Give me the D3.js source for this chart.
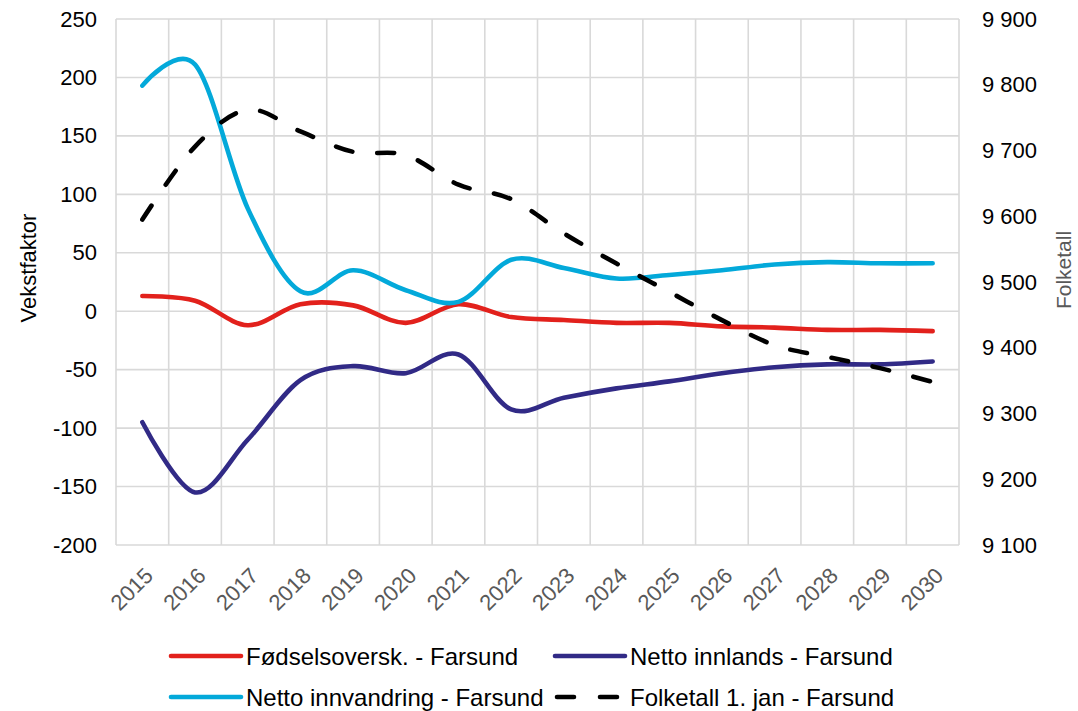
<!DOCTYPE html>
<html>
<head>
<meta charset="utf-8">
<script src="https://cdn.jsdelivr.net/npm/d3@7"></script>
<style>
  body { margin: 0; background: #fff; }
  svg { display: block; font-family: "Liberation Sans", Arial, sans-serif; }
</style>
</head>
<body>
<div id="chart"></div>
<script>
// Data
const years = [2015, 2016, 2017, 2018, 2019, 2020, 2021, 2022, 2023, 2024, 2025, 2026, 2027, 2028, 2029, 2030];
const fodselsoverskudd = [13, 9, -12, 6, 5, -10, 6, -5, -7.5, -10, -10, -13, -14, -16, -16, -17];
const nettoInnlands = [-95, -155, -110, -59, -47, -53, -37, -84, -74, -66, -60, -53, -48, -45.5, -45.5, -43];
const nettoInnvandring = [193, 211, 88, 17, 35, 18, 8, 44, 37, 28, 31, 35, 40, 42, 41, 41];
const folketall = [9595, 9706, 9762, 9729, 9698, 9693, 9648, 9626, 9574, 9528, 9485, 9442, 9404, 9386, 9369, 9348];
const leftTicks = [-200, -150, -100, -50, 0, 50, 100, 150, 200, 250];
const rightTicks = [9100, 9200, 9300, 9400, 9500, 9600, 9700, 9800, 9900];

const width = 1078,
  height = 711;
const plot = { left: 116, right: 959, top: 19, bottom: 545 };
const grid = "#d9d9d9";

const series = [
  { name: "Fødselsoversk. - Farsund", values: fodselsoverskudd, color: "#e2211c", axis: "left" },
  { name: "Netto innlands - Farsund", values: nettoInnlands, color: "#312a86", axis: "left" },
  { name: "Netto innvandring - Farsund", values: nettoInnvandring, color: "#03a9da", axis: "left" },
  { name: "Folketall 1. jan - Farsund", values: folketall, color: "#000", axis: "right", dashed: true },
];

const svg = d3
  .select("#chart")
  .append("svg")
  .attr("width", width)
  .attr("height", height);

// Scales
const x = d3.scaleBand().domain(years).range([plot.left, plot.right]);
const xc = (d) => x(d) + x.bandwidth() / 2;
const yLeft = d3.scaleLinear().domain([-200, 250]).range([plot.bottom, plot.top]);
const yRight = d3.scaleLinear().domain([9100, 9900]).range([plot.bottom, plot.top]);

// Norwegian number format (space as thousands separator, plain hyphen as minus)
const nb = d3.formatLocale({ decimal: ",", thousands: " ", grouping: [3], currency: ["", " kr"], minus: "-" });

// Gridlines
svg
  .append("g")
  .selectAll("line")
  .data(leftTicks)
  .enter()
  .append("line")
  .attr("x1", plot.left)
  .attr("x2", plot.right)
  .attr("y1", (d) => yLeft(d))
  .attr("y2", (d) => yLeft(d))
  .attr("stroke", grid)
  .attr("stroke-width", 1.6);

svg
  .append("g")
  .selectAll("line")
  .data(years.concat([null]))
  .enter()
  .append("line")
  .attr("x1", (d) => (d === null ? plot.right : x(d)))
  .attr("x2", (d) => (d === null ? plot.right : x(d)))
  .attr("y1", plot.top)
  .attr("y2", plot.bottom)
  .attr("stroke", grid)
  .attr("stroke-width", 1.6);

// Axes
const leftAxis = svg
  .append("g")
  .attr("transform", `translate(${plot.left},0)`)
  .call(d3.axisLeft(yLeft).tickValues(leftTicks).tickSize(0).tickPadding(19).tickFormat(nb.format("d")));
leftAxis.select(".domain").remove();
leftAxis.selectAll("text").style("font-size", "22px").attr("fill", "#000");

const rightAxis = svg
  .append("g")
  .attr("transform", `translate(${plot.right},0)`)
  .call(d3.axisRight(yRight).tickValues(rightTicks).tickSize(0).tickPadding(23).tickFormat(nb.format(",")));
rightAxis.select(".domain").remove();
rightAxis.selectAll("text").style("font-size", "22px").attr("fill", "#000");

const bottomAxis = svg
  .append("g")
  .attr("transform", `translate(0,${plot.bottom})`)
  .call(d3.axisBottom(x).tickSize(0).tickFormat(d3.format("d")));
bottomAxis.select(".domain").remove();
bottomAxis
  .selectAll("text")
  .style("font-size", "22px")
  .attr("fill", "#595959")
  .attr("text-anchor", "end")
  .attr("y", 0)
  .attr("dy", "0.71em")
  .attr("transform", "translate(1,21) rotate(-45)");

// Axis titles
svg
  .append("text")
  .attr("transform", `translate(36,${(plot.top + plot.bottom) / 2 - 14}) rotate(-90)`)
  .attr("text-anchor", "middle")
  .style("font-size", "22px")
  .attr("fill", "#000")
  .text("Vekstfaktor");

svg
  .append("text")
  .attr("transform", `translate(1071,${(plot.top + plot.bottom) / 2 - 12}) rotate(-90)`)
  .attr("text-anchor", "middle")
  .style("font-size", "21px")
  .attr("fill", "#595959")
  .text("Folketall");

// Lines
svg
  .append("g")
  .selectAll("path")
  .data(series)
  .enter()
  .append("path")
  .attr("fill", "none")
  .attr("stroke", (d) => d.color)
  .attr("stroke-width", 4.6)
  .attr("stroke-linecap", "round")
  .attr("stroke-linejoin", "round")
  .attr("stroke-dasharray", (d) => (d.dashed ? "17,25" : null))
  .attr("d", (d) => {
    const yScale = d.axis === "left" ? yLeft : yRight;
    return d3
      .line()
      .x((v, i) => xc(years[i]))
      .y((v) => yScale(v))
      .curve(d3.curveCardinal.tension(0))(d.values);
  });

// Legend
const legendPos = [
  { x: 171, y: 656 },
  { x: 555, y: 656 },
  { x: 171, y: 697 },
  { x: 555, y: 697 },
];
const legend = svg
  .append("g")
  .selectAll("g")
  .data(series)
  .enter()
  .append("g")
  .attr("transform", (d, i) => `translate(${legendPos[i].x},${legendPos[i].y})`);

legend
  .append("line")
  .attr("x1", (d) => (d.dashed ? 2 : 0))
  .attr("x2", (d) => (d.dashed ? 62 : 70))
  .attr("stroke", (d) => d.color)
  .attr("stroke-width", 4.6)
  .attr("stroke-linecap", "round")
  .attr("stroke-dasharray", (d) => (d.dashed ? "17,26" : null));

legend
  .append("text")
  .attr("x", 75)
  .attr("dy", "0.36em")
  .style("font-size", "24px")
  .attr("fill", "#000")
  .text((d) => d.name);
</script>
</body>
</html>
